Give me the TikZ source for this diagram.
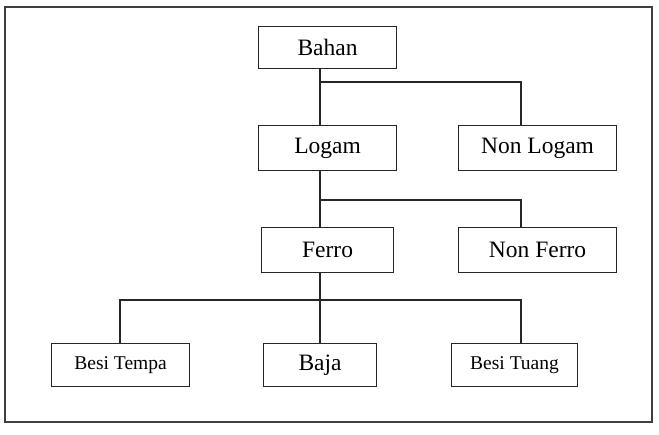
\documentclass[tikz,border=0pt]{standalone}
\usepackage{fontspec}
\setmainfont{Liberation Serif}
\begin{document}
\begin{tikzpicture}[x=1pt,y=-1pt,
  box/.style={draw=black!85,line width=1.1pt,inner sep=0pt,anchor=north west},
  big/.style={font=\fontsize{23.5}{28}\selectfont},
  small/.style={font=\fontsize{19.5}{23}\selectfont},
  conn/.style={draw=black!85,line width=1.1pt}]
\useasboundingbox (0,0) rectangle (659,434);
\draw[draw=black!75,line width=1.6pt] (5,7) rectangle (652,422);
% boxes
\node[box,big,minimum width=138pt,minimum height=42pt] (bahan) at (258,26) {Bahan};
\node[box,big,minimum width=138pt,minimum height=45pt] (logam) at (258,125) {Logam};
\node[box,big,minimum width=158pt,minimum height=45pt] (nonlogam) at (458,125) {Non Logam};
\node[box,big,minimum width=132pt,minimum height=45pt] (ferro) at (261,227) {Ferro};
\node[box,big,minimum width=158pt,minimum height=45pt] (nonferro) at (458,227) {Non Ferro};
\node[box,small,minimum width=138pt,minimum height=43pt] (tempa) at (51,343) {Besi Tempa};
\node[box,big,minimum width=113pt,minimum height=43pt] (baja) at (263,343) {Baja};
\node[box,small,minimum width=126pt,minimum height=43pt] (tuang) at (451,343) {Besi Tuang};
% connectors
\coordinate (j1) at (320,82);
\coordinate (j2) at (320,200);
\coordinate (j3) at (320,300);
\draw[conn] (bahan.south -| j1) -- (logam.north -| j1);
\draw[conn] (j1) -- (521,82) -- (521,125);
\draw[conn] (logam.south -| j2) -- (ferro.north -| j2);
\draw[conn] (j2) -- (521,200) -- (521,227);
\draw[conn] (ferro.south -| j3) -- (baja.north -| j3);
\draw[conn] (120,343) -- (120,300) -- (521,300) -- (521,343);
\end{tikzpicture}
\end{document}
